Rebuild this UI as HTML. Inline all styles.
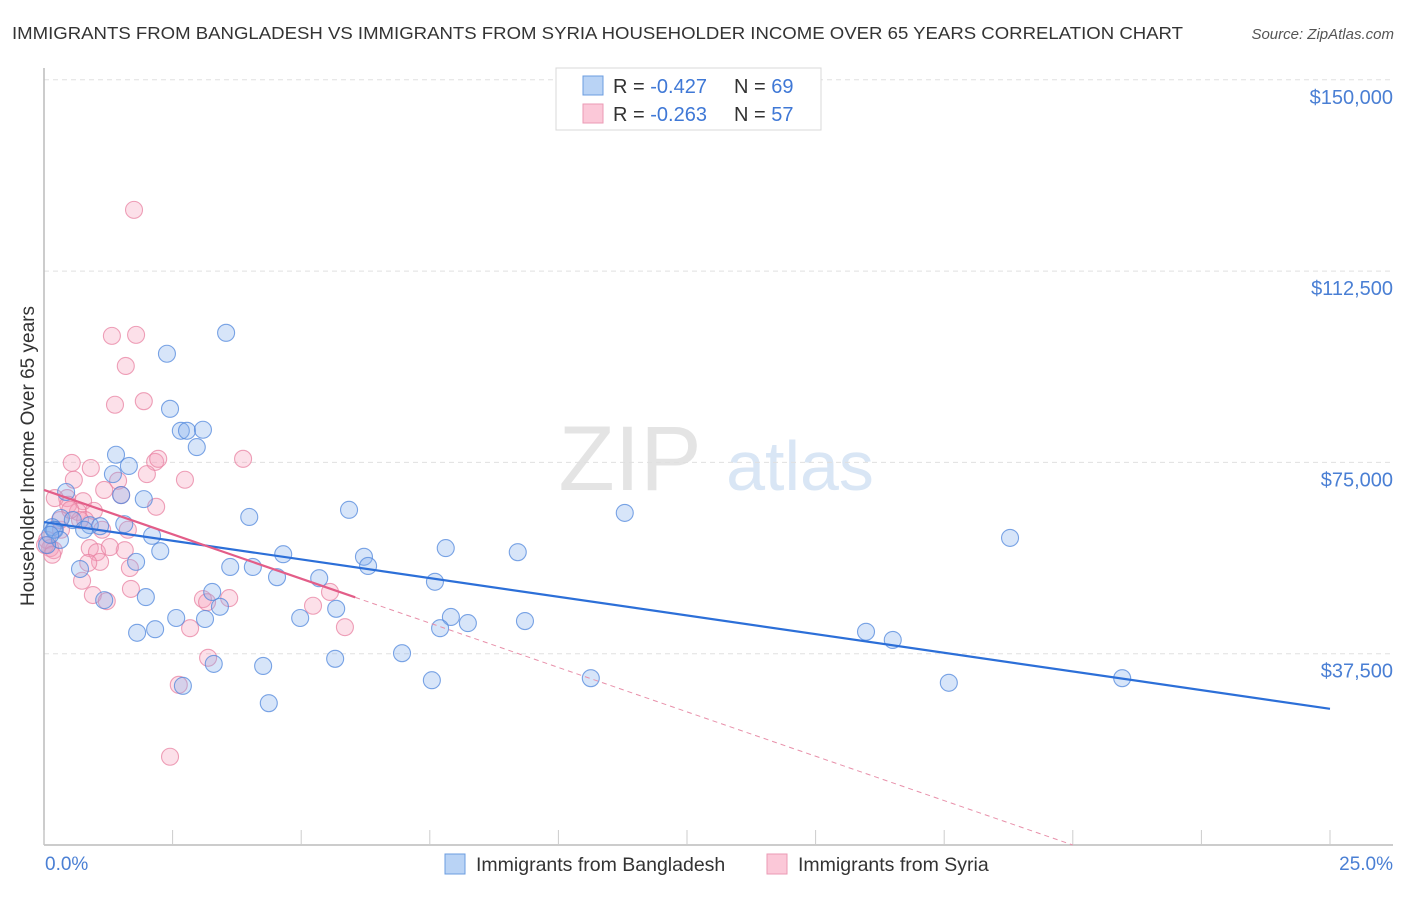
<!DOCTYPE html>
<html><head><meta charset="utf-8"><style>
body{margin:0;background:#fff;font-family:"Liberation Sans",sans-serif}
svg text{font-family:"Liberation Sans",sans-serif}
</style></head><body>
<svg id="chart" width="1406" height="892" viewBox="0 0 1406 892" xmlns="http://www.w3.org/2000/svg">
<rect width="1406" height="892" fill="#fff"/>
<text x="12" y="39" font-size="17.5" fill="#333" textLength="1171" lengthAdjust="spacingAndGlyphs">IMMIGRANTS FROM BANGLADESH VS IMMIGRANTS FROM SYRIA HOUSEHOLDER INCOME OVER 65 YEARS CORRELATION CHART</text>
<text x="1394" y="39" font-size="15" fill="#555" font-style="italic" text-anchor="end">Source: ZipAtlas.com</text>
<g>
<text x="630" y="490" font-size="92" fill="#e4e4e4" font-family="Liberation Serif,serif" text-anchor="middle">ZIP</text>
<text x="800" y="490" font-size="70" fill="#d9e6f5" text-anchor="middle">atlas</text>
</g>
<g id="grid"></g>
<g id="axes"></g>
<g id="points"></g>
<g id="trends"></g>
<text transform="translate(34,456) rotate(-90)" font-size="19" fill="#333" text-anchor="middle">Householder Income Over 65 years</text>
<text x="45" y="870" font-size="19" fill="#4a7fd4">0.0%</text>
<text x="1393" y="870" font-size="19" fill="#4a7fd4" text-anchor="end">25.0%</text>
<g>
<rect x="556" y="68" width="265" height="62" fill="#fff" stroke="#d8d8d8"/>
<rect x="583" y="76" width="20" height="19" fill="#b9d3f5" stroke="#6b9ce0"/>
<rect x="583" y="104" width="20" height="19" fill="#fbc8d8" stroke="#eb9ab4"/>
<text x="613" y="93" font-size="20" fill="#333">R = <tspan fill="#3f78d6">-0.427</tspan></text>
<text x="734" y="93" font-size="20" fill="#333">N = <tspan fill="#3f78d6">69</tspan></text>
<text x="613" y="121" font-size="20" fill="#333">R = <tspan fill="#3f78d6">-0.263</tspan></text>
<text x="734" y="121" font-size="20" fill="#333">N = <tspan fill="#3f78d6">57</tspan></text>
</g>
<g>
<rect x="445" y="854" width="20" height="20" fill="#b9d3f5" stroke="#6b9ce0"/>
<text x="476" y="871" font-size="19.5" fill="#333">Immigrants from Bangladesh</text>
<rect x="767" y="854" width="20" height="20" fill="#fbc8d8" stroke="#eb9ab4"/>
<text x="798" y="871" font-size="19.5" fill="#333">Immigrants from Syria</text>
</g>
</svg>
<script>
const yTicks=[37500,75000,112500,150000];
const yTickLabels=["$37,500","$75,000","$112,500","$150,000"];
const xTicks=[0,2.5,5,7.5,10,12.5,15,17.5,20,22.5,25];
const bdX=[3.54,2.39,2.45,2.66,2.78,3.09,2.97,1.40,1.65,1.34,1.50,1.94,0.43,0.33,0.56,0.16,0.21,0.89,1.09,1.56,0.78,2.10,2.26,3.99,5.93,11.29,18.78,7.81,9.21,4.65,6.22,6.30,3.62,4.06,1.79,0.70,4.53,5.35,7.60,3.27,1.98,1.17,3.42,5.68,2.57,3.13,4.98,7.91,8.24,9.35,7.70,2.16,1.81,15.98,16.50,6.96,5.66,3.30,4.26,7.54,10.63,17.59,20.96,2.70,4.37,0.19,0.31,0.06,0.12];
const bdY=[100.4,96.3,85.5,81.2,81.2,81.4,78.0,76.5,74.3,72.7,68.6,67.8,69.2,64.1,63.7,62.3,61.8,62.7,62.5,62.9,61.8,60.6,57.6,64.3,65.7,65.1,60.2,58.2,57.4,57.0,56.5,54.7,54.5,54.5,55.5,54.1,52.5,52.3,51.6,49.6,48.6,48.0,46.7,46.3,44.5,44.3,44.5,44.7,43.5,43.9,42.5,42.3,41.6,41.8,40.2,37.6,36.5,35.5,35.1,32.3,32.7,31.8,32.7,31.2,27.8,61.8,59.8,58.8,60.8];
const syX=[1.75,1.32,1.79,1.59,1.38,1.94,0.54,0.91,2.16,2.22,3.87,0.58,2.74,2.00,1.44,1.17,1.50,0.45,0.76,0.21,0.47,2.18,0.66,0.97,0.80,0.33,0.06,0.12,0.19,1.13,0.89,1.03,1.57,1.28,1.67,1.09,0.86,0.74,0.95,1.22,1.69,3.09,3.60,3.17,5.56,5.23,2.84,5.85,3.19,2.62,2.45,0.02,0.16,0.31,0.70,0.51,1.63];
const syY=[124.5,99.8,100.0,93.9,86.3,87.0,74.9,73.9,75.1,75.7,75.7,71.6,71.6,72.7,71.4,69.6,68.6,68.0,67.4,68.0,66.7,66.3,65.3,65.5,63.7,61.8,59.8,58.2,57.8,61.8,58.2,57.4,57.8,58.4,54.3,55.5,55.3,51.8,49.0,47.8,50.2,48.2,48.4,47.6,49.6,46.9,42.5,42.7,36.7,31.4,17.3,58.8,56.9,63.7,63.7,65.7,61.8];
const bdTrend=[63.3,26.7];
const syTrend=[69.6,-3.48];
const syTrendSolidEnd=6.05;
const NS="http://www.w3.org/2000/svg";
const X0=44,X1=1330,Y0=845,YMAX=845-191.3*4;
function sx(v){return X0+(X1-X0)*v/25;}
function sy(k){return Y0-(Y0-YMAX)*(k*1000)/150000;}
function mk(t,a,p){const e=document.createElementNS(NS,t);for(const k in a)e.setAttribute(k,a[k]);p.appendChild(e);return e;}
const grid=document.getElementById('grid'),axes=document.getElementById('axes');
yTicks.forEach((v,i)=>{
 const l=mk('line',{x1:44,x2:1393,y1:sy(v/1000),y2:sy(v/1000),stroke:'#e0e0e0','stroke-dasharray':'5,4'},grid);
 
 
 const t=mk('text',{x:1393,y:sy(v/1000)+24,'font-size':20,fill:'#4a7fd4','text-anchor':'end'},grid);
 t.textContent=yTickLabels[i];
 
 
});
let a=mk('line',{x1:44,x2:44,y1:68,y2:845,stroke:'#bbb','stroke-width':1.5},axes);


a=mk('line',{x1:44,x2:1393,y1:845,y2:845,stroke:'#bbb','stroke-width':1.5},axes);


xTicks.forEach(v=>{const t=mk('line',{x1:sx(v),x2:sx(v),y1:830,y2:845,stroke:'#ccc'},axes);
 
 });
const pts=document.getElementById('points');
syX.forEach((v,i)=>{const c=mk('circle',{cx:sx(v),cy:sy(syY[i]),r:8.5,fill:'rgba(246,160,188,0.32)',stroke:'rgba(232,130,162,0.75)','stroke-width':1.1},pts);
 
 });
bdX.forEach((v,i)=>{const c=mk('circle',{cx:sx(v),cy:sy(bdY[i]),r:8.5,fill:'rgba(130,175,235,0.32)',stroke:'rgba(80,135,220,0.75)','stroke-width':1.1},pts);
 
 });
const tr=document.getElementById('trends');
let l=mk('line',{x1:sx(0),y1:sy(bdTrend[0]),x2:sx(25),y2:sy(bdTrend[1]),stroke:'#2c6fd8','stroke-width':2.2},tr);


const zeroX=-syTrend[0]/syTrend[1];
l=mk('line',{x1:sx(syTrendSolidEnd),y1:sy(syTrend[0]+syTrend[1]*syTrendSolidEnd),x2:sx(zeroX),y2:sy(0),stroke:'#e890aa','stroke-width':1,'stroke-dasharray':'5,4'},tr);


l=mk('line',{x1:sx(0),y1:sy(syTrend[0]),x2:sx(syTrendSolidEnd),y2:sy(syTrend[0]+syTrend[1]*syTrendSolidEnd),stroke:'#e35d88','stroke-width':2.2},tr);


</script>
</body></html>
